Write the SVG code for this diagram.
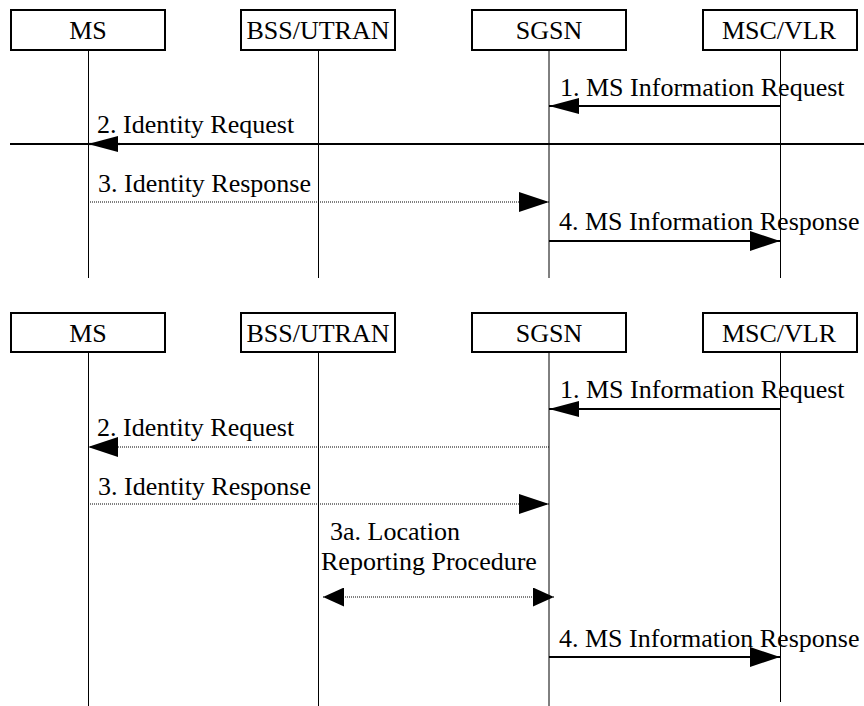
<svg xmlns="http://www.w3.org/2000/svg" width="864" height="706" viewBox="0 0 864 706">
<style>
  .box { fill: #fff; stroke: #000; stroke-width: 2; }
  .life { stroke: #000; stroke-width: 1; fill: none; }
  .t { font-family: "Liberation Serif", "Times New Roman", serif; font-size: 26px; fill: #000; }
  .c { text-anchor: middle; }
  .solid { stroke: #000; stroke-width: 2.2; fill: none; }
  .dot { stroke: #000; stroke-width: 1; stroke-dasharray: 1 1; fill: none; }
</style>
<defs>
  <marker id="hA" viewBox="0 0 30 16" refX="30" refY="8" markerWidth="30" markerHeight="16" markerUnits="userSpaceOnUse" orient="auto">
    <path d="M0,0 L30,8 L0,16 z" fill="#000"/>
  </marker>
  <marker id="hB" viewBox="0 0 30 20" refX="30" refY="10" markerWidth="30" markerHeight="20" markerUnits="userSpaceOnUse" orient="auto">
    <path d="M0,0 L30,10 L0,20 z" fill="#000"/>
  </marker>
  <marker id="hC" viewBox="0 0 21 19" refX="21" refY="9.5" markerWidth="21" markerHeight="19" markerUnits="userSpaceOnUse" orient="auto-start-reverse">
    <path d="M0,0 L21,9.5 L0,19 z" fill="#000"/>
  </marker>
</defs>
<rect width="864" height="706" fill="#fff"/>

<!-- Top diagram nodes -->
<g id="top-ms">
  <line class="life" x1="88.5" y1="50" x2="88.5" y2="278"/>
  <rect class="box" x="11" y="10" width="154" height="40"/>
  <text class="t c" x="88" y="39">MS</text>
</g>
<g id="top-bss">
  <line class="life" x1="318.5" y1="50" x2="318.5" y2="278"/>
  <rect class="box" x="241" y="10" width="154" height="40"/>
  <text class="t c" x="318" y="39">BSS/UTRAN</text>
</g>
<g id="top-sgsn">
  <line class="life" x1="549" y1="50" x2="549" y2="278" stroke="#666"/>
  <rect class="box" x="472" y="10" width="154" height="40"/>
  <text class="t c" x="549" y="39">SGSN</text>
</g>
<g id="top-msc">
  <line class="life" x1="780.5" y1="50" x2="780.5" y2="278"/>
  <rect class="box" x="703" y="10" width="154" height="40"/>
  <text class="t c" x="779" y="39">MSC/VLR</text>
</g>

<!-- Bottom diagram nodes -->
<g id="bot-ms">
  <line class="life" x1="88.5" y1="352" x2="88.5" y2="706"/>
  <rect class="box" x="11" y="313" width="154" height="39"/>
  <text class="t c" x="88" y="342">MS</text>
</g>
<g id="bot-bss">
  <line class="life" x1="318.5" y1="352" x2="318.5" y2="706"/>
  <rect class="box" x="241" y="313" width="154" height="39"/>
  <text class="t c" x="318" y="342">BSS/UTRAN</text>
</g>
<g id="bot-sgsn">
  <line class="life" x1="549" y1="352" x2="549" y2="706" stroke="#666"/>
  <rect class="box" x="472" y="313" width="154" height="39"/>
  <text class="t c" x="549" y="342">SGSN</text>
</g>
<g id="bot-msc">
  <line class="life" x1="780.5" y1="352" x2="780.5" y2="702"/>
  <rect class="box" x="703" y="313" width="154" height="39"/>
  <text class="t c" x="779" y="342">MSC/VLR</text>
</g>

<!-- Connectors -->
<g id="connectors">
  <!-- top -->
  <line class="solid" x1="780" y1="106" x2="549" y2="106" marker-end="url(#hA)"/>
  <text class="t" x="560" y="96">1. MS Information Request</text>
  <line class="solid" x1="864" y1="144" x2="10" y2="144"/>
  <line class="solid" x1="120" y1="144" x2="88" y2="144" marker-end="url(#hA)"/>
  <text class="t" x="97" y="133">2. Identity Request</text>
  <line class="dot" x1="88" y1="202" x2="549" y2="202" marker-end="url(#hB)"/>
  <text class="t" x="98" y="192">3. Identity Response</text>
  <line class="solid" x1="549" y1="241" x2="780" y2="241" marker-end="url(#hB)"/>
  <text class="t" x="559" y="230">4. MS Information Response</text>

  <!-- bottom -->
  <line class="solid" x1="780" y1="409" x2="549" y2="409" marker-end="url(#hA)"/>
  <text class="t" x="560" y="398">1. MS Information Request</text>
  <line class="dot" x1="549" y1="447" x2="88" y2="447" marker-end="url(#hB)"/>
  <text class="t" x="97" y="436">2. Identity Request</text>
  <line class="dot" x1="88" y1="504" x2="549" y2="504" marker-end="url(#hB)"/>
  <text class="t" x="98" y="495">3. Identity Response</text>
  <text class="t" x="330" y="540">3a. Location</text>
  <text class="t" x="321" y="570">Reporting Procedure</text>
  <line class="dot" x1="323" y1="597" x2="554" y2="597" marker-start="url(#hC)" marker-end="url(#hC)"/>
  <line class="solid" x1="549" y1="657" x2="780" y2="657" marker-end="url(#hB)"/>
  <text class="t" x="559" y="647">4. MS Information Response</text>
</g>
</svg>
